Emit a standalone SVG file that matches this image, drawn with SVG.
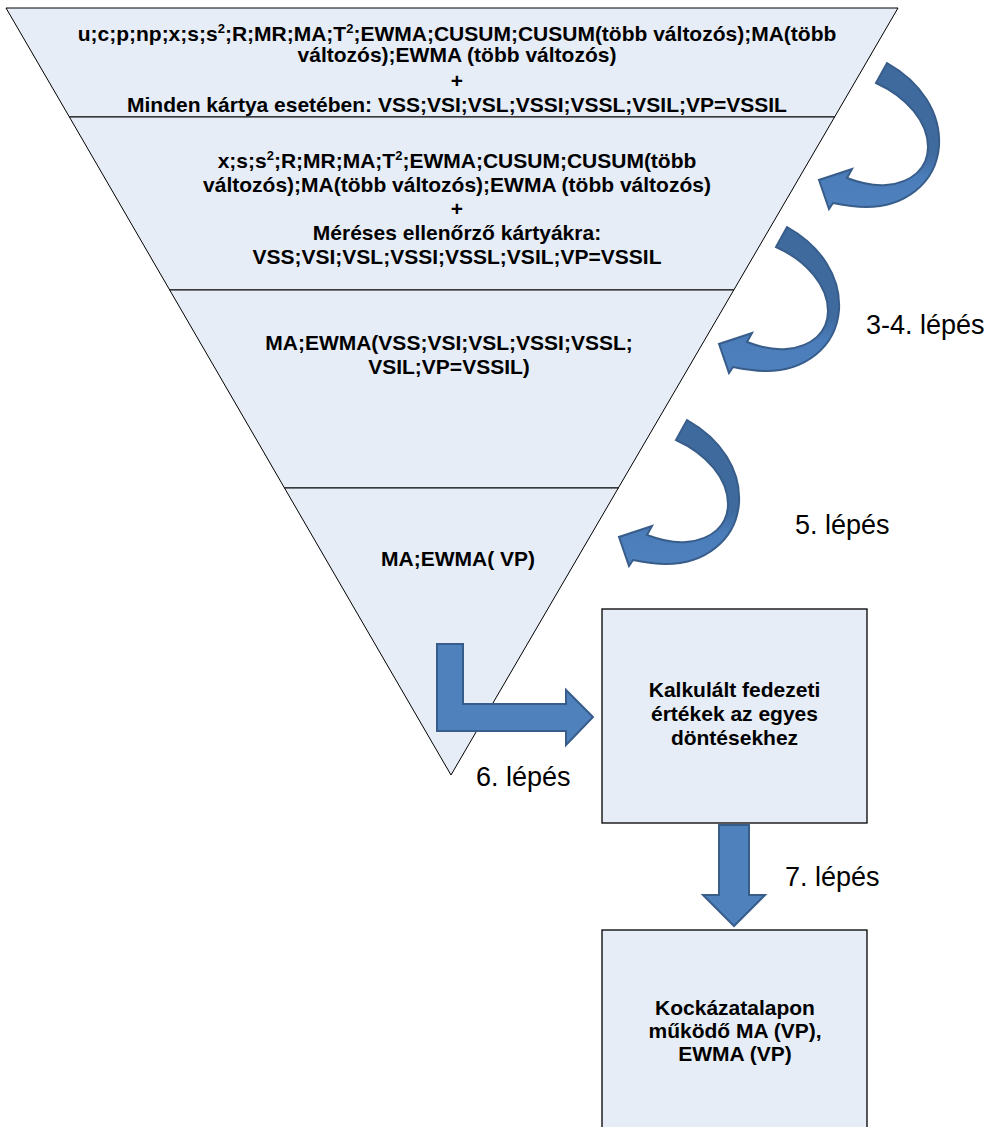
<svg xmlns="http://www.w3.org/2000/svg" xmlns:xlink="http://www.w3.org/1999/xlink" width="993" height="1127" viewBox="0 0 993 1127">
<style>
.sec{fill:#E6EDF7;stroke:#000;stroke-width:1}
.box{fill:#E6EDF7;stroke:#000;stroke-width:1.3}
.t{font-family:"Liberation Sans",Arial,sans-serif;font-weight:bold;font-size:21px;fill:#000;text-anchor:middle}
.lbl{font-family:"Liberation Sans",Arial,sans-serif;font-size:27px;fill:#000}
.arr{fill:#4F81BD;stroke:#385D8A;stroke-width:2;stroke-linejoin:miter}
.carr{fill:url(#cg);stroke:#385D8A;stroke-width:2}
</style>
<defs>
<linearGradient id="cg" x1="0" y1="0" x2="0" y2="1">
<stop offset="0" stop-color="#3F6A9E"/>
<stop offset="0.62" stop-color="#3F6A9E"/>
<stop offset="0.78" stop-color="#4A7DBA"/>
<stop offset="1" stop-color="#4F81BD"/>
</linearGradient>
<path id="curved" class="carr" d="M876,83 L887,63 C921,82 941,113 939,146 C936,184 904,207 866,207 C853,207 843,205 833,203 L829,209 L819,180 L852,169 L847,178 C860,183 873,186 886,185 C912,183 928,168 928,147 C928,122 907,97 876,83 Z"/>
</defs>

<g id="section1">
<polygon class="sec" points="6,8 898,8 834.6,117 69.4,117"/>
<text class="t" x="457" y="41">u;c;p;np;x;s;s<tspan dy="-8" font-size="13">2</tspan><tspan dy="8">;R;MR;MA;T</tspan><tspan dy="-8" font-size="13">2</tspan><tspan dy="8">;EWMA;CUSUM;CUSUM(több változós);MA(több</tspan></text>
<text class="t" x="457" y="62">változós);EWMA (több változós)</text>
<text class="t" x="457" y="88">+</text>
<text class="t" x="457" y="112">Minden kártya esetében: VSS;VSI;VSL;VSSI;VSSL;VSIL;VP=VSSIL</text>
</g>

<g id="section2">
<polygon class="sec" points="69.4,117 834.6,117 733.8,290 169.7,290"/>
<text class="t" x="457" y="168">x;s;s<tspan dy="-8" font-size="13">2</tspan><tspan dy="8">;R;MR;MA;T</tspan><tspan dy="-8" font-size="13">2</tspan><tspan dy="8">;EWMA;CUSUM;CUSUM(több</tspan></text>
<text class="t" x="457" y="192">változós);MA(több változós);EWMA (több változós)</text>
<text class="t" x="457" y="216">+</text>
<text class="t" x="457" y="240">Méréses ellenőrző kártyákra:</text>
<text class="t" x="457" y="264">VSS;VSI;VSL;VSSI;VSSL;VSIL;VP=VSSIL</text>
</g>

<g id="section3">
<polygon class="sec" points="169.7,290 733.8,290 618.3,488 284.5,488"/>
<text class="t" x="449" y="350">MA;EWMA(VSS;VSI;VSL;VSSI;VSSL;</text>
<text class="t" x="449" y="374">VSIL;VP=VSSIL)</text>
</g>

<g id="section4">
<polygon class="sec" points="284.5,488 618.3,488 451,775"/>
<text class="t" x="458" y="566">MA;EWMA( VP)</text>
</g>

<g id="box1">
<rect class="box" x="602" y="609" width="265" height="214"/>
<text class="t" x="734.5" y="697">Kalkulált fedezeti</text>
<text class="t" x="734.5" y="721">értékek az egyes</text>
<text class="t" x="734.5" y="745">döntésekhez</text>
</g>

<g id="box2">
<rect class="box" x="602" y="930" width="265" height="205"/>
<text class="t" x="735" y="1015">Kockázatalapon</text>
<text class="t" x="735" y="1038">működő MA (VP),</text>
<text class="t" x="735" y="1061">EWMA (VP)</text>
</g>

<g id="connectors">
<use xlink:href="#curved"/>
<use xlink:href="#curved" transform="translate(-100,164)"/>
<use xlink:href="#curved" transform="translate(-200,357)"/>
<path class="arr" d="M437,644 H463 V704 H566 V690 L593,717 L566,745 V731 H437 Z"/>
<path class="arr" d="M719,825 H749 V895 H765 L734,926 L703,895 H719 Z"/>
</g>

<g id="labels">
<text class="lbl" x="866" y="334">3-4. lépés</text>
<text class="lbl" x="795" y="534">5. lépés</text>
<text class="lbl" x="476" y="786">6. lépés</text>
<text class="lbl" x="785" y="886">7. lépés</text>
</g>
</svg>
